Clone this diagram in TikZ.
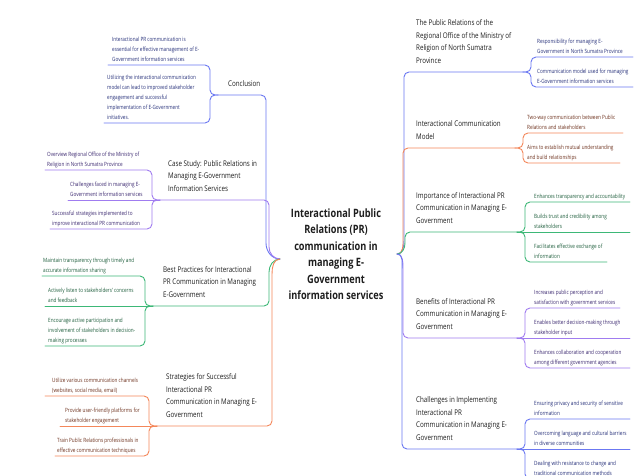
\documentclass[tikz,border=0pt]{standalone}
\usepackage{fontspec}
\setmainfont{Open Sans}[FakeStretch=0.8]
\definecolor{cblue}{HTML}{6B78F2}
\definecolor{cpurple}{HTML}{A07CF0}
\definecolor{cgreen}{HTML}{3DB877}
\definecolor{corange}{HTML}{F4875A}
\definecolor{tblue}{HTML}{26307A}
\definecolor{tpurple}{HTML}{3B2870}
\definecolor{tgreen}{HTML}{1E5E3C}
\definecolor{torange}{HTML}{6E321E}
\definecolor{ttitle}{HTML}{1E1E1E}
\tikzset{
  leaf/.style={anchor=north west, inner sep=0pt, align=left, font=\fontsize{5.8}{10}\selectfont},
  branch/.style={anchor=north west, inner sep=0pt, align=left, font=\fontsize{7.8}{12.5}\selectfont, text=ttitle},
  root/.style={align=center, inner sep=0pt, font=\bfseries\fontsize{11.5}{16.5}\selectfont, text=ttitle},
  ln/.style={line width=0.9pt, line cap=round},
  sub/.style={ln, rounded corners=5pt}
}
\begin{document}
\begin{tikzpicture}[x=1pt,y=1pt]
\useasboundingbox[fill=white] (0,0) rectangle (634,-476);

\node[root] (root) at (336,-254) {Interactional Public\\Relations (PR)\\communication in\\managing E-\\Government\\information services};
\coordinate (L) at (280,-259);
\coordinate (R) at (397,-254);

% ---------- LEFT: Conclusion ----------
\node[branch] (conc) at (228,-80) {Conclusion};
\coordinate (fconc) at (218,-95);
\draw[ln,cblue] (L) to[out=180,in=-90] (266,-243) [rounded corners=5pt] -- (266,-95) -- (fconc);
\node[leaf,text=tblue] (conc1) at (112,-37) {Interactional PR communication is\\essential for effective management of E-\\Government information services};
\node[leaf,text=tblue] (conc2) at (107,-75) {Utilizing the interactional communication\\model can lead to improved stakeholder\\engagement and successful\\implementation of E-Government\\initiatives.};
\coordinate (conc1e) at (108,-65);
\coordinate (conc2e) at (104,-123);
\draw[sub,cblue] (fconc) -- ++(-8,0) |- (conc1e);
\draw[sub,cblue] (fconc) -- ++(-8,0) |- (conc2e);

% ---------- LEFT: Case study ----------
\node[branch] (case) at (168,-160) {Case Study: Public Relations in\\Managing E-Government\\Information Services};
\coordinate (fcase) at (160,-200);
\draw[ln,cpurple] (L) to[out=180,in=-90] (269,-247) [rounded corners=5pt] -- (269,-200) -- (fcase);
\node[leaf,text=tpurple] (case1) at (47,-152) {Overview Regional Office of the Ministry of\\Religion in North Sumatra Province};
\node[leaf,text=tpurple] (case2) at (70,-182) {Challenges faced in managing E-\\Government information services};
\node[leaf,text=tpurple] (case3) at (52,-211) {Successful strategies implemented to\\improve interactional PR communication};
\coordinate (case1e) at (45,-170);
\coordinate (case2e) at (68,-200);
\coordinate (case3e) at (50,-229);
\draw[sub,cpurple] (fcase) -- ++(-8,0) |- (case1e);
\draw[ln,cpurple] (fcase) -- (case2e);
\draw[sub,cpurple] (fcase) -- ++(-8,0) |- (case3e);

% ---------- LEFT: Best practices ----------
\node[branch] (best) at (163,-266) {Best Practices for Interactional\\PR Communication in Managing\\E-Government};
\coordinate (fbest) at (153,-306);
\draw[ln,cgreen] (L) to[out=180,in=90] (269,-272) [rounded corners=5pt] -- (269,-306) -- (fbest);
\node[leaf,text=tgreen] (best1) at (43,-258) {Maintain transparency through timely and\\accurate information sharing};
\node[leaf,text=tgreen] (best2) at (48,-288) {Actively listen to stakeholders' concerns\\and feedback};
\node[leaf,text=tgreen] (best3) at (48,-318) {Encourage active participation and\\involvement of stakeholders in decision-\\making processes};
\coordinate (best1e) at (42,-276);
\coordinate (best2e) at (45,-306);
\coordinate (best3e) at (45,-346);
\draw[sub,cgreen] (fbest) -- ++(-8,0) |- (best1e);
\draw[ln,cgreen] (fbest) -- (best2e);
\draw[sub,cgreen] (fbest) -- ++(-8,0) |- (best3e);

% ---------- LEFT: Strategies ----------
\node[branch] (strat) at (166,-373.5) {Strategies for Successful\\Interactional PR\\Communication in Managing E-\\Government};
\coordinate (fstrat) at (157,-426);
\draw[ln,corange] (L) to[out=180,in=90] (272,-274) [rounded corners=5pt] -- (272,-426) -- (fstrat);
\node[leaf,text=torange] (strat1) at (52,-378) {Utilize various communication channels\\(websites, social media, email)};
\node[leaf,text=torange] (strat2) at (65,-408) {Provide user-friendly platforms for\\stakeholder engagement};
\node[leaf,text=torange] (strat3) at (57,-438) {Train Public Relations professionals in\\effective communication techniques};
\coordinate (strat1e) at (45,-396);
\coordinate (strat2e) at (60,-426);
\coordinate (strat3e) at (55,-456);
\draw[sub,corange] (fstrat) -- ++(-8,0) |- (strat1e);
\draw[ln,corange] (fstrat) -- (strat2e);
\draw[sub,corange] (fstrat) -- ++(-8,0) |- (strat3e);

% ---------- RIGHT: PR office ----------
\node[branch] (pr) at (416,-19.5) {The Public Relations of the\\Regional Office of the Ministry of\\Religion of North Sumatra\\Province};
\coordinate (fpr) at (523,-72);
\draw[ln,cblue] (R) to[out=0,in=-90] (404,-240) [rounded corners=5pt] -- (404,-72) -- (fpr);
\node[leaf,text=tblue] (pr1) at (537,-39) {Responsibility for managing E-\\Government in North Sumatra Province};
\node[leaf,text=tblue] (pr2) at (537,-69) {Communication model used for managing\\E-Government information services};
\coordinate (pr1e) at (633,-57);
\coordinate (pr2e) at (633,-87);
\draw[sub,cblue] (fpr) -- ++(8,0) |- (pr1e);
\draw[sub,cblue] (fpr) -- ++(8,0) |- (pr2e);

% ---------- RIGHT: Interactional communication model ----------
\node[branch] (icm) at (416,-120.5) {Interactional Communication\\Model};
\coordinate (ficm) at (515,-148);
\draw[ln,corange] (R) to[out=0,in=-90] (403,-238) [rounded corners=5pt] -- (403,-148) -- (ficm);
\node[leaf,text=torange] (icm1) at (527,-115) {Two-way communication between Public\\Relations and stakeholders};
\node[leaf,text=torange] (icm2) at (527,-145) {Aims to establish mutual understanding\\and build relationships};
\coordinate (icm1e) at (623,-133);
\coordinate (icm2e) at (620,-163);
\draw[sub,corange] (ficm) -- ++(8,0) |- (icm1e);
\draw[sub,corange] (ficm) -- ++(8,0) |- (icm2e);

% ---------- RIGHT: Importance ----------
\node[branch] (imp) at (416,-192) {Importance of Interactional PR\\Communication in Managing E-\\Government};
\coordinate (fimp) at (517,-232);
\draw[ln,cgreen] (R) to[out=0,in=-90] (405,-243) [rounded corners=5pt] -- (405,-232) -- (fimp);
\node[leaf,text=tgreen] (imp1) at (534,-194) {Enhances transparency and accountability};
\node[leaf,text=tgreen] (imp2) at (534,-214) {Builds trust and credibility among\\stakeholders};
\node[leaf,text=tgreen] (imp3) at (534,-244) {Facilitates effective exchange of\\information};
\coordinate (imp1e) at (630,-202);
\coordinate (imp2e) at (630,-232);
\coordinate (imp3e) at (607,-262);
\draw[sub,cgreen] (fimp) -- ++(8,0) |- (imp1e);
\draw[ln,cgreen] (fimp) -- (imp2e);
\draw[sub,cgreen] (fimp) -- ++(8,0) |- (imp3e);

% ---------- RIGHT: Benefits ----------
\node[branch] (ben) at (416,-298) {Benefits of Interactional PR\\Communication in Managing E-\\Government};
\coordinate (fben) at (517,-338);
\draw[ln,cpurple] (R) to[out=0,in=90] (403,-268) [rounded corners=5pt] -- (403,-338) -- (fben);
\node[leaf,text=tpurple] (ben1) at (534,-290) {Increases public perception and\\satisfaction with government services};
\node[leaf,text=tpurple] (ben2) at (534,-320) {Enables better decision-making through\\stakeholder input};
\node[leaf,text=tpurple] (ben3) at (534,-350) {Enhances collaboration and cooperation\\among different government agencies};
\coordinate (ben1e) at (620,-308);
\coordinate (ben2e) at (630,-338);
\coordinate (ben3e) at (630,-368);
\draw[sub,cpurple] (fben) -- ++(8,0) |- (ben1e);
\draw[ln,cpurple] (fben) -- (ben2e);
\draw[sub,cpurple] (fben) -- ++(8,0) |- (ben3e);

% ---------- RIGHT: Challenges ----------
\node[branch] (chal) at (416,-396.5) {Challenges in Implementing\\Interactional PR\\Communication in Managing E-\\Government};
\coordinate (fchal) at (517,-449);
\draw[ln,cblue] (R) to[out=0,in=90] (402,-270) [rounded corners=5pt] -- (402,-449) -- (fchal);
\node[leaf,text=tblue] (chal1) at (534,-401) {Ensuring privacy and security of sensitive\\information};
\node[leaf,text=tblue] (chal2) at (534,-431) {Overcoming language and cultural barriers\\in diverse communities};
\node[leaf,text=tblue] (chal3) at (534,-461) {Dealing with resistance to change and\\traditional communication methods};
\coordinate (chal1e) at (630,-419);
\coordinate (chal2e) at (630,-449);
\coordinate (chal3e) at (630,-479);
\draw[sub,cblue] (fchal) -- ++(8,0) |- (chal1e);
\draw[ln,cblue] (fchal) -- (chal2e);
\draw[sub,cblue] (fchal) -- ++(8,0) |- (chal3e);
\end{tikzpicture}
\end{document}
